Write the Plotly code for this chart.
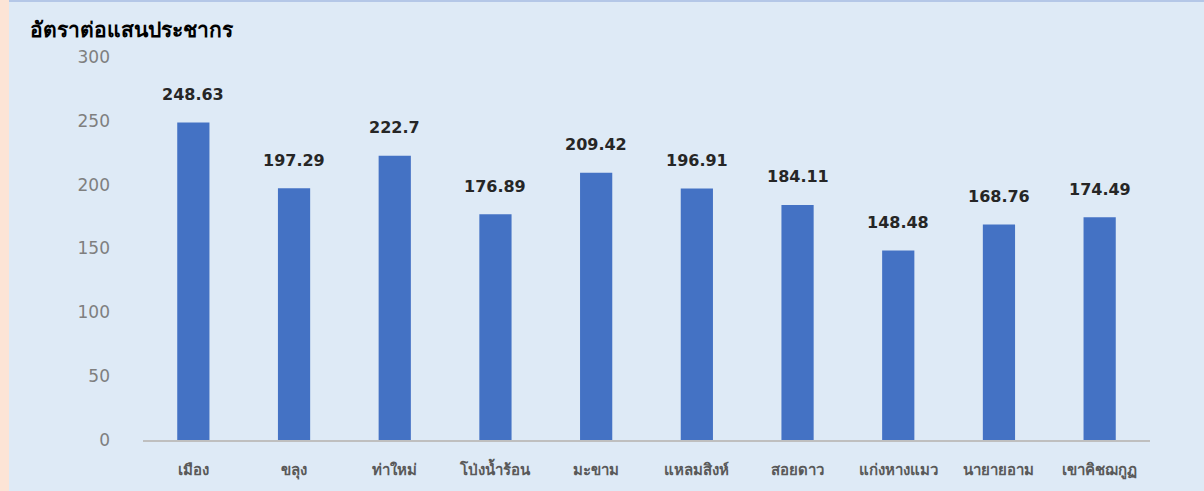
import plotly.graph_objects as go

districts = ["เมือง", "ขลุง", "ท่าใหม่", "โป่งน้ำร้อน", "มะขาม",
             "แหลมสิงห์", "สอยดาว", "แก่งหางแมว", "นายายอาม", "เขาคิชฌกูฏ"]
rates = [248.63, 197.29, 222.7, 176.89, 209.42, 196.91, 184.11, 148.48, 168.76, 174.49]
y_ticks = [0, 50, 100, 150, 200, 250, 300]

W, H = 1204, 491
L, R, T, B = 143, 54, 57, 51
pw = W - L - R
ph = H - T - B

fig = go.Figure()

fig.add_trace(go.Bar(
    x=districts,
    y=rates,
    marker=dict(color="#4472C4", line=dict(width=0)),
    hoverinfo="x+y",
))

# value labels above bars
for d, v in zip(districts, rates):
    fig.add_annotation(
        x=d, y=v, text=f"<b>{v:g}</b>", showarrow=False,
        yshift=28, font=dict(size=16, color="#262626"),
    )

# peach strip on the left and blue line on top
fig.add_shape(type="rect", xref="paper", yref="paper",
              x0=-L / pw, x1=-(L - 9) / pw, y0=-B / ph, y1=(ph + T) / ph,
              fillcolor="#FCE4D6", line=dict(width=0), layer="below")
fig.add_shape(type="rect", xref="paper", yref="paper",
              x0=-(L - 9) / pw, x1=(pw + R) / pw, y0=(ph + T - 2) / ph, y1=(ph + T) / ph,
              fillcolor="#B4C7E7", line=dict(width=0), layer="below")

fig.update_layout(
    width=W, height=H,
    margin=dict(l=L, r=R, t=T, b=B),
    paper_bgcolor="#DEEAF6",
    plot_bgcolor="#DEEAF6",
    bargap=0.68,
    showlegend=False,
    font=dict(family="Tahoma, DejaVu Sans, sans-serif"),
    title=dict(text="<b>อัตราต่อแสนประชากร</b>", x=30 / W, xanchor="left",
               y=1 - 30 / H, yanchor="middle",
               font=dict(size=21, color="#000000")),
    xaxis=dict(
        showline=True, linecolor="#BFBFBF", linewidth=1.5,
        ticks="", tickfont=dict(size=15, color="#595959", weight="bold"),
        ticklabelstandoff=15,
        showgrid=False,
    ),
    yaxis=dict(
        range=[0, 300], tickvals=y_ticks, showgrid=False, zeroline=False,
        showline=False, ticks="", ticklabelstandoff=32,
        tickfont=dict(size=17, color="#7F7F7F"),
    ),
)

fig.write_html("out.html", config={"displayModeBar": False},
               post_script="document.body.style.margin='0';")
